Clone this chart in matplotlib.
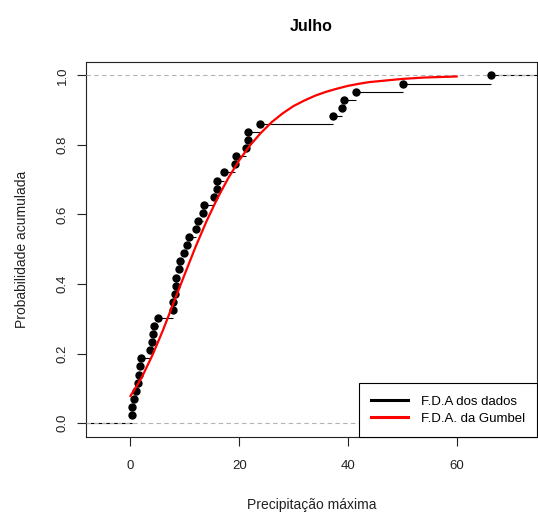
import matplotlib
matplotlib.use("Agg")
import matplotlib.pyplot as plt
import numpy as np
from matplotlib.lines import Line2D

plt.rcParams['font.family'] = ['Liberation Sans', 'DejaVu Sans']

# Empirical data (sorted maximum precipitation values)
precip = [0.2, 0.3, 0.6, 1.0, 1.3, 1.6, 1.8, 1.9, 3.6, 3.9, 4.1, 4.4, 5.1,
          7.8, 7.9, 8.2, 8.3, 8.4, 8.9, 9.2, 9.8, 10.4, 10.8, 12.0, 12.5,
          13.4, 13.5, 15.3, 15.9, 16.0, 17.2, 19.3, 19.5, 21.3, 21.6, 21.7,
          23.8, 37.3, 38.9, 39.3, 41.4, 50.1, 66.4]

# Fitted Gumbel CDF
gumbel_x = [0, 2, 4, 6, 8, 10, 12, 14, 16, 18, 20, 22, 24, 26, 28, 30, 32,
            34, 36, 38, 40, 42, 44, 46, 48, 50, 52, 54, 56, 58, 60]
gumbel_F = [0.078, 0.129, 0.194, 0.268, 0.349, 0.429, 0.508, 0.581, 0.647,
            0.705, 0.756, 0.799, 0.835, 0.866, 0.891, 0.912, 0.928, 0.942,
            0.953, 0.962, 0.970, 0.976, 0.981, 0.984, 0.987, 0.990, 0.992,
            0.994, 0.995, 0.996, 0.997]

title = "Julho"
xlabel = "Precipitação máxima"
ylabel = "Probabilidade acumulada"
legend_labels = ["F.D.A dos dados", "F.D.A. da Gumbel"]
xticks = [0, 20, 40, 60]
yticks = [0.0, 0.2, 0.4, 0.6, 0.8, 1.0]

fig = plt.figure(figsize=(5.38, 5.15), dpi=100)
ax = fig.add_axes([0.160, 0.1515, 0.838, 0.729])

x = np.array(precip)
n = len(x)
y = np.arange(1, n + 1) / n
rx = (x.min(), x.max())
dr = 0.08 * (rx[1] - rx[0])
xlim0 = (rx[0] - dr, rx[1] + dr)
w = xlim0[1] - xlim0[0]
ax.set_xlim(xlim0[0] - 0.04 * w, xlim0[1] + 0.04 * w)
ax.set_ylim(-0.04, 1.04)

# step segments
edges = np.concatenate([[xlim0[0] - 2 * dr], x, [xlim0[1] + 2 * dr]])
levels = np.concatenate([[0.0], y])
for i in range(n + 1):
    ax.plot([edges[i], edges[i + 1]], [levels[i], levels[i]], color='black',
            lw=0.8, solid_capstyle='butt', zorder=2)

# reference dashed lines at 0 and 1
for h in (0, 1):
    ax.axhline(h, color='#b3b3b3', lw=0.8, ls=(0, (4, 3)), zorder=3)

ax.plot(x, y, 'o', color='black', markersize=5.0, zorder=4)

ax.plot(gumbel_x, gumbel_F, color='red', lw=1.6, zorder=5)

ax.set_xticks(xticks)
ax.set_xticklabels([str(t) for t in xticks])
ax.set_yticks(yticks)
ax.set_yticklabels([f"{t:.1f}" for t in yticks], rotation=90, va='center')
ax.tick_params(axis='both', length=6.5, width=0.8, labelsize=9.5,
               colors='#222222')
ax.tick_params(axis='x', pad=10)
ax.tick_params(axis='y', pad=6)

for s in ax.spines.values():
    s.set_linewidth(0.8)
    s.set_color('#222222')

ax.set_title(title, fontsize=11.5, fontweight='bold', pad=22)
ax.set_xlabel(xlabel, fontsize=10, labelpad=19, color='#222222')
ax.set_ylabel(ylabel, fontsize=10, labelpad=20, color='#222222')

handles = [Line2D([], [], color='black', lw=2.2),
           Line2D([], [], color='red', lw=2.2)]
leg = ax.legend(handles, legend_labels, loc='lower right', fontsize=9.5,
                frameon=True, fancybox=False, framealpha=1,
                edgecolor='black', borderaxespad=0, handlelength=2.8,
                handletextpad=1.0, borderpad=0.9, labelspacing=0.4)
leg.get_frame().set_linewidth(0.8)

fig.savefig("out.png", dpi=100)
